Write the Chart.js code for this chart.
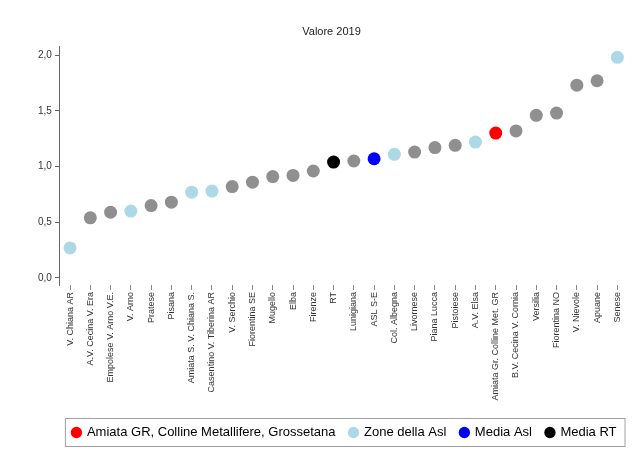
<!DOCTYPE html>
<html>
<head>
<meta charset="utf-8">
<script src="https://cdn.jsdelivr.net/npm/chart.js@4"></script>
<style>
  html, body { margin: 0; padding: 0; background: #fff; }
</style>
</head>
<body>
<canvas id="chart" width="634" height="462"></canvas>
<script>
// ---------------- DATA ----------------
const labels = [
  "V. Chiana AR", "A.V. Cecina V. Era", "Empolese V. Arno V.E.", "V. Arno", "Pratese",
  "Pisana", "Amiata S. V. Chiana S.", "Casentino V. Tiberina AR", "V. Serchio", "Fiorentina SE",
  "Mugello", "Elba", "Firenze", "RT", "Lunigiana", "ASL S-E", "Col. Albegna", "Livornese",
  "Piana Lucca", "Pistoiese", "A.V. Elsa", "Amiata Gr. Colline Met. GR", "B.V. Cecina V. Cornia",
  "Versilia", "Fiorentina NO", "V. Nievole", "Apuane", "Senese"
];
const values = [
  0.27, 0.54, 0.59, 0.60, 0.65, 0.68, 0.77, 0.78, 0.82, 0.86,
  0.91, 0.92, 0.96, 1.04, 1.05, 1.07, 1.11, 1.13, 1.17, 1.19,
  1.22, 1.30, 1.32, 1.46, 1.48, 1.73, 1.77, 1.98
];
// group of each point: 0 = altre zone, 1 = selected zone, 2 = zone della Asl, 3 = media Asl, 4 = media RT
const groups = [
  2, 0, 0, 2, 0, 0, 2, 2, 0, 0,
  0, 0, 0, 4, 0, 3, 2, 0, 0, 0,
  2, 1, 0, 0, 0, 0, 0, 2
];
const groupColors = ["#8f8f8f", "#ff0000", "#add8e6", "#0000ff", "#000000"];
const legendNames = ["Amiata GR, Colline Metallifere, Grossetana", "Zone della Asl", "Media Asl", "Media RT"];
const legendGroups = [1, 2, 3, 4];
const yTicks = [0, 0.5, 1, 1.5, 2];

const FONT = "'Liberation Sans', Arial, sans-serif";

// box around the legend, legend nudged right to sit under the plot
const legendFrame = {
  id: "legendFrame",
  afterLayout(chart) {
    const lg = chart.legend;
    if (!lg) return;
    lg.left += 13;
    lg.right += 13;
  },
  afterDraw(chart) {
    const lg = chart.legend;
    if (!lg || !lg.legendHitBoxes.length) return;
    const boxes = lg.legendHitBoxes;
    const left = chart.chartArea.left + 5;
    const right = chart.chartArea.right - 3;
    const top = Math.min(...boxes.map(b => b.top)) - 8;
    const bottom = Math.max(...boxes.map(b => b.top + b.height)) + 7;
    const ctx = chart.ctx;
    ctx.save();
    ctx.strokeStyle = "#a0a0a0";
    ctx.lineWidth = 1;
    ctx.strokeRect(left + 0.5, top + 0.5, right - left, bottom - top);
    ctx.restore();
  }
};

new Chart(document.getElementById("chart"), {
  type: "line",
  data: {
    labels: labels,
    datasets: [{
      data: values,
      showLine: false,
      pointRadius: 6.5,
      pointHoverRadius: 6.5,
      pointBorderWidth: 0,
      pointBackgroundColor: groups.map(g => groupColors[g]),
      pointBorderColor: groups.map(g => groupColors[g])
    }]
  },
  options: {
    responsive: false,
    animation: false,
    layout: { padding: { left: 35, right: 6, top: 8, bottom: 13 } },
    plugins: {
      title: {
        display: true,
        text: "Valore 2019",
        color: "#222",
        font: { family: FONT, size: 11, weight: "normal" },
        padding: { top: 17, bottom: 8 }
      },
      legend: {
        position: "bottom",
        labels: {
          usePointStyle: true,
          pointStyle: "circle",
          boxWidth: 8,
          boxHeight: 8,
          padding: 14,
          color: "#222",
          font: { family: FONT, size: 13 },
          generateLabels: () => legendNames.map((n, i) => ({
            text: n,
            fillStyle: groupColors[legendGroups[i]],
            strokeStyle: groupColors[legendGroups[i]],
            lineWidth: 0,
            pointStyle: "circle",
            hidden: false,
            datasetIndex: 0
          }))
        },
        onClick: () => {}
      },
      tooltip: { enabled: false }
    },
    scales: {
      x: {
        offset: true,
        afterFit: s => { s.height = 127; },
        grid: { display: true, drawOnChartArea: false, offset: false, tickLength: 5, color: "#888" },
        border: { display: false },
        ticks: {
          autoSkip: false,
          minRotation: 90,
          maxRotation: 90,
          padding: 2,
          color: "#333",
          font: { family: FONT, size: 9 }
        }
      },
      y: {
        min: -0.063,
        max: 2.08,
        afterBuildTicks: s => { s.ticks = yTicks.map(v => ({ value: v })); },
        grid: { display: true, drawOnChartArea: false, tickLength: 5, color: "#666" },
        border: { display: true, color: "#666" },
        ticks: {
          padding: 3,
          color: "#333",
          font: { family: FONT, size: 10 },
          callback: v => v.toFixed(1).replace(".", ",")
        }
      }
    }
  },
  plugins: [legendFrame]
});
</script>
</body>
</html>
